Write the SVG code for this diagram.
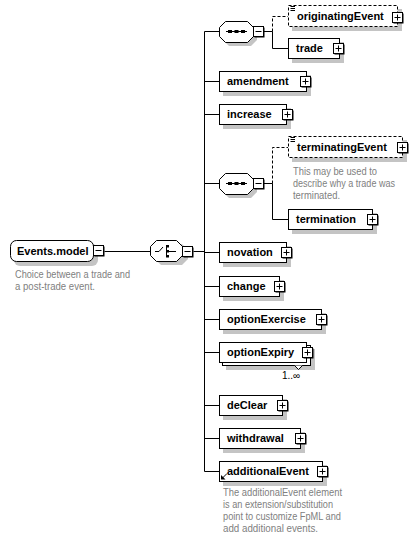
<svg xmlns="http://www.w3.org/2000/svg" width="418" height="536" viewBox="0 0 418 536">
<style>
.box{fill:#fff;stroke:#000;stroke-width:1}
.opt{fill:#fff;stroke:#000;stroke-width:1;stroke-dasharray:3,2}
.sh{fill:#c4c4c4}
.lbl{font-family:"Liberation Sans",Arial,sans-serif;font-weight:bold;font-size:11px;fill:#000}
.desc{font-family:"Liberation Sans",Arial,sans-serif;font-size:10px;fill:#808080}
.card{font-family:"Liberation Sans",Arial,sans-serif;font-size:10px;fill:#000}
.ln{stroke:#000;stroke-width:1;fill:none}
.dash{stroke:#000;stroke-width:1;fill:none;stroke-dasharray:3,2}
.pm{fill:#fff;stroke:#000;stroke-width:1}
</style>
<defs>
<g id="plus"><rect x="1" y="1" width="10" height="10" fill="#000"/><rect class="pm" x="0" y="0" width="10" height="10"/><path class="ln" d="M2,5H8M5,2V8"/></g>
<g id="minus"><rect x="1" y="1" width="10" height="10" fill="#000"/><rect class="pm" x="0" y="0" width="10" height="10"/><path class="ln" d="M2,5H8"/></g>
<g id="optmark"><path class="ln" d="M1.5,1.5H6M1.5,3.5H6M1.5,5.5H6"/></g>
</defs>

<g id="connectors">
<path class="ln" d="M104.5,251.5H150"/>
<path class="ln" d="M193.5,251.5H204.5"/>
<path class="ln" d="M204.5,31.5V471.5"/>
<path class="ln" d="M204.5,31.5H219M204.5,81.5H219M204.5,114.5H219M204.5,183.5H219M204.5,252.5H219M204.5,286.5H219M204.5,319.5H219M204.5,352.5H219M204.5,405.5H219M204.5,438.5H219M204.5,471.5H219"/>
<path class="ln" d="M263.5,31.5H272.5"/>
<path class="dash" d="M272.5,31.5V16.5H288"/>
<path class="ln" d="M272.5,31.5V48.5H288"/>
<path class="ln" d="M263.5,183.5H272.5"/>
<path class="dash" d="M272.5,183.5V147.5H288"/>
<path class="ln" d="M272.5,183.5V219.5H288"/>
</g>

<g id="events-model">
<rect class="sh" x="14" y="244" width="84" height="22" rx="6"/>
<rect class="box" x="10.5" y="240.5" width="83" height="21" rx="6"/>
<text class="lbl" x="17" y="255">Events.model</text>
<use href="#minus" x="93.5" y="245.5"/>
<text class="desc" x="15" y="278" textLength="115" lengthAdjust="spacingAndGlyphs">Choice between a trade and</text>
<text class="desc" x="15" y="290" textLength="80" lengthAdjust="spacingAndGlyphs">a post-trade event.</text>
</g>

<g id="choice">
<path class="sh" d="M161,244H182L188,250V259L182,265H161L155,259V250Z"/>
<path class="box" d="M156.5,240.5H176.5L182.5,246.5V255.5L176.5,261.5H156.5L150.5,255.5V246.5Z"/>
<path class="ln" d="M155,251.5H159L163,247M166.5,246V257M166.5,251.5H176"/>
<rect x="166" y="245" width="3" height="2.5" fill="#000"/>
<rect x="166" y="250" width="3" height="2.5" fill="#000"/>
<rect x="166" y="255" width="3" height="2.5" fill="#000"/>
<use href="#minus" x="182.5" y="246.5"/>
</g>

<g id="sequence1">
<path class="sh" d="M229,25H251L257,31V40L251,46H229L223,40V31Z"/>
<path class="box" d="M225.5,21.5H247.5L253.5,27.5V36.5L247.5,42.5H225.5L219.5,36.5V27.5Z"/>
<path class="ln" d="M226,31.5H247"/>
<rect x="228" y="30" width="4" height="3" fill="#000"/>
<rect x="234.5" y="30" width="4" height="3" fill="#000"/>
<rect x="241" y="30" width="4" height="3" fill="#000"/>
<use href="#minus" x="253.5" y="26.5"/>
</g>

<g id="originatingEvent">
<rect class="sh" x="292" y="9" width="110" height="22"/>
<rect class="opt" x="288.5" y="5.5" width="109" height="21"/>
<use href="#optmark" x="289" y="5"/>
<text class="lbl" x="297" y="20">originatingEvent</text>
<use href="#plus" x="392.5" y="12.5"/>
</g>

<g id="trade">
<rect class="sh" x="292" y="42" width="52" height="21"/>
<rect class="box" x="288.5" y="38.5" width="51" height="20"/>
<text class="lbl" x="296" y="52">trade</text>
<use href="#plus" x="333.5" y="43.5"/>
</g>

<g id="amendment">
<rect class="sh" x="223" y="75" width="88" height="21"/>
<rect class="box" x="219.5" y="71.5" width="87" height="20"/>
<text class="lbl" x="227" y="85">amendment</text>
<use href="#plus" x="300.5" y="76.5"/>
</g>

<g id="increase">
<rect class="sh" x="223" y="108" width="68" height="21"/>
<rect class="box" x="219.5" y="104.5" width="67" height="20"/>
<text class="lbl" x="227" y="118">increase</text>
<use href="#plus" x="282.5" y="109.5"/>
</g>

<g id="sequence2">
<path class="sh" d="M229,177H251L257,183V192L251,198H229L223,192V183Z"/>
<path class="box" d="M225.5,173.5H247.5L253.5,179.5V188.5L247.5,194.5H225.5L219.5,188.5V179.5Z"/>
<path class="ln" d="M226,183.5H247"/>
<rect x="228" y="182" width="4" height="3" fill="#000"/>
<rect x="234.5" y="182" width="4" height="3" fill="#000"/>
<rect x="241" y="182" width="4" height="3" fill="#000"/>
<use href="#minus" x="253.5" y="178.5"/>
</g>

<g id="terminatingEvent">
<rect class="sh" x="292" y="140" width="115" height="22"/>
<rect class="opt" x="288.5" y="136.5" width="114" height="21"/>
<use href="#optmark" x="289" y="136"/>
<text class="lbl" x="297" y="151">terminatingEvent</text>
<use href="#plus" x="397.5" y="142.5"/>
<text class="desc" x="293" y="175" textLength="84" lengthAdjust="spacingAndGlyphs">This may be used to</text>
<text class="desc" x="293" y="187" textLength="102" lengthAdjust="spacingAndGlyphs">describe why a trade was</text>
<text class="desc" x="293" y="199" textLength="47" lengthAdjust="spacingAndGlyphs">terminated.</text>
</g>

<g id="termination">
<rect class="sh" x="292" y="213" width="85" height="21"/>
<rect class="box" x="288.5" y="209.5" width="84" height="20"/>
<text class="lbl" x="296" y="223">termination</text>
<use href="#plus" x="367.5" y="214.5"/>
</g>

<g id="novation">
<rect class="sh" x="223" y="246" width="68" height="21"/>
<rect class="box" x="219.5" y="242.5" width="67" height="20"/>
<text class="lbl" x="227" y="256">novation</text>
<use href="#plus" x="281.5" y="247.5"/>
</g>

<g id="change">
<rect class="sh" x="223" y="280" width="61" height="21"/>
<rect class="box" x="219.5" y="276.5" width="60" height="20"/>
<text class="lbl" x="227" y="290">change</text>
<use href="#plus" x="274.5" y="281.5"/>
</g>

<g id="optionExercise">
<rect class="sh" x="223" y="313" width="103" height="21"/>
<rect class="box" x="219.5" y="309.5" width="102" height="20"/>
<text class="lbl" x="227" y="323">optionExercise</text>
<use href="#plus" x="316.5" y="314.5"/>
</g>

<g id="optionExpiry">
<rect class="sh" x="226" y="349" width="89" height="21"/>
<rect class="box" x="222.5" y="345.5" width="88" height="20"/>
<rect class="box" x="219.5" y="342.5" width="87" height="20"/>
<text class="lbl" x="227" y="356">optionExpiry</text>
<use href="#plus" x="302.5" y="347.5"/>
<path class="box" d="M294.5,365.5L298.5,369.5L302.5,365.5"/>
<text class="card" x="282" y="379">1..∞</text>
</g>

<g id="deClear">
<rect class="sh" x="223" y="399" width="64" height="21"/>
<rect class="box" x="219.5" y="395.5" width="63" height="20"/>
<text class="lbl" x="227" y="409">deClear</text>
<use href="#plus" x="277.5" y="400.5"/>
</g>

<g id="withdrawal">
<rect class="sh" x="223" y="432" width="82" height="21"/>
<rect class="box" x="219.5" y="428.5" width="81" height="20"/>
<text class="lbl" x="227" y="442">withdrawal</text>
<use href="#plus" x="295.5" y="433.5"/>
</g>

<g id="additionalEvent">
<rect class="sh" x="223" y="465" width="104" height="21"/>
<rect class="box" x="219.5" y="461.5" width="103" height="20"/>
<text class="lbl" x="227" y="475">additionalEvent</text>
<path class="ln" d="M227,473.5L222.5,478"/>
<path d="M221,479.5V475L225.5,479.5Z" fill="#000"/>
<use href="#plus" x="317.5" y="466.5"/>
<text class="desc" x="223" y="496" textLength="119" lengthAdjust="spacingAndGlyphs">The additionalEvent element</text>
<text class="desc" x="223" y="508" textLength="110" lengthAdjust="spacingAndGlyphs">is an extension/substitution</text>
<text class="desc" x="223" y="520" textLength="118" lengthAdjust="spacingAndGlyphs">point to customize FpML and</text>
<text class="desc" x="223" y="532" textLength="95" lengthAdjust="spacingAndGlyphs">add additional events.</text>
</g>
</svg>
